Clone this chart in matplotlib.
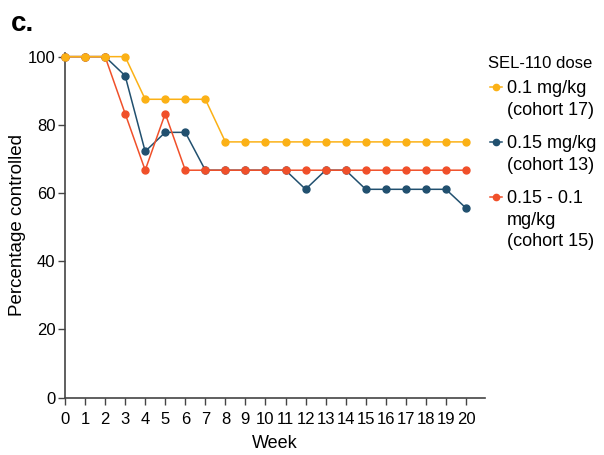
import matplotlib
matplotlib.use("Agg")
import matplotlib.pyplot as plt
from matplotlib.lines import Line2D

plt.rcParams['font.family'] = ['Liberation Sans', 'DejaVu Sans']

# Weekly percentage of patients controlled per dose cohort
weeks = list(range(0, 21))
cohort17 = [100, 100, 100, 100, 87.5, 87.5, 87.5, 87.5, 75, 75, 75,
            75, 75, 75, 75, 75, 75, 75, 75, 75, 75]
cohort13 = [100, 100, 100, 94.4, 72.2, 77.8, 77.8, 66.7, 66.7, 66.7, 66.7,
            66.7, 61.1, 66.7, 66.7, 61.1, 61.1, 61.1, 61.1, 61.1, 55.6]
cohort15 = [100, 100, 100, 83.3, 66.7, 83.3, 66.7, 66.7, 66.7, 66.7, 66.7,
            66.7, 66.7, 66.7, 66.7, 66.7, 66.7, 66.7, 66.7, 66.7, 66.7]

labels = ['0.1 mg/kg\n(cohort 17)', '0.15 mg/kg\n(cohort 13)',
          '0.15 - 0.1\nmg/kg\n(cohort 15)']
colors = ['#FBB116', '#21506F', '#F0502A']

W, H = 604, 455
fig = plt.figure(figsize=(W / 100, H / 100), dpi=100)
ax = fig.add_axes([0.1076, 0.126, 0.6954, 0.757])

# draw order: blue under red, yellow on top
series = [(cohort17, colors[0], 3),
          (cohort13, colors[1], 1),
          (cohort15, colors[2], 2)]
for vals, col, z in series:
    ax.plot(weeks, vals, color=col, lw=1.1, marker='o', ms=5,
            zorder=z, clip_on=False)

ax.set_xlim(0, 20.95)
ax.set_ylim(0, 101)
ax.set_xticks(weeks)
ax.set_yticks([0, 20, 40, 60, 80, 100])
ax.tick_params(axis='x', labelsize=12, length=5, width=1, color='#444444', pad=5)
ax.tick_params(axis='y', labelsize=12, length=5, width=1, color='#444444', pad=2)
for lbl in ax.get_xticklabels():
    lbl.set_family(['Liberation Sans Narrow', 'Liberation Sans'])
for s in ['top', 'right']:
    ax.spines[s].set_visible(False)
for s in ['left', 'bottom']:
    ax.spines[s].set_color('#444444')
    ax.spines[s].set_linewidth(1.2)

ax.set_xlabel('Week', fontsize=13, labelpad=6)
ax.set_ylabel('Percentage controlled', fontsize=13.5, labelpad=1)

fig.text(0.018, 0.975, 'c.', fontsize=20, fontweight='bold', va='top')

# hand-built legend: the key sits beside the first line of each label
fig.text(488 / W, 1 - 63 / H, 'SEL-110 dose', fontsize=12, va='center')
first_line_y = [87, 142, 197]
for lab, col, yp in zip(labels, colors, first_line_y):
    fy = 1 - yp / H
    fig.add_artist(Line2D([490 / W, 502 / W], [fy, fy], color=col, lw=1.1,
                          transform=fig.transFigure))
    fig.add_artist(Line2D([496 / W], [fy], color=col, marker='o', ms=4.5,
                          transform=fig.transFigure))
    fig.text(507 / W, fy + 7 / H, lab, fontsize=13, va='top',
             linespacing=1.35)

fig.savefig('out.png', dpi=100)
